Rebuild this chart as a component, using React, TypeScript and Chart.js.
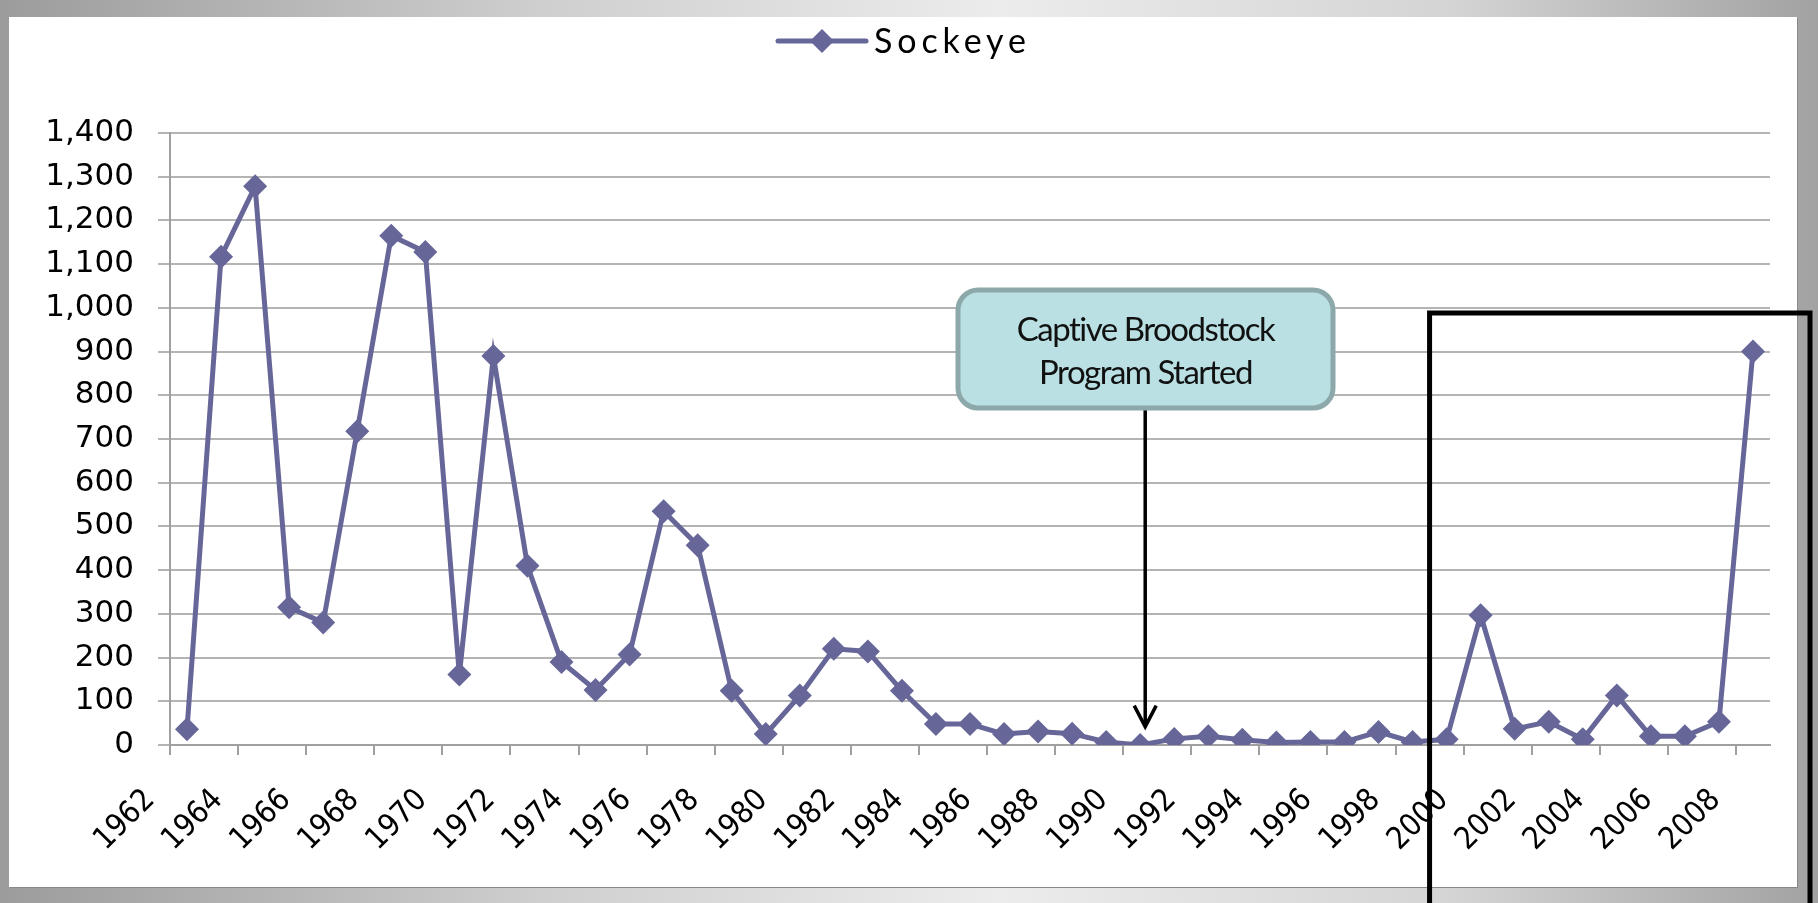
import React, { useEffect, useRef } from 'react';
import { Chart, registerables } from 'chart.js';

Chart.register(...registerables);

const years = [
  '1962', '1963', '1964', '1965', '1966', '1967', '1968', '1969', '1970', '1971',
  '1972', '1973', '1974', '1975', '1976', '1977', '1978', '1979', '1980', '1981',
  '1982', '1983', '1984', '1985', '1986', '1987', '1988', '1989', '1990', '1991',
  '1992', '1993', '1994', '1995', '1996', '1997', '1998', '1999', '2000', '2001',
  '2002', '2003', '2004', '2005', '2006', '2007', '2008',
];

const sockeye = [
  36, 1117, 1278, 315, 280, 718, 1165, 1128, 161, 890,
  410, 190, 126, 207, 535, 457, 124, 25, 113, 220,
  214, 124, 48, 48, 25, 31, 26, 7, 0, 14,
  20, 12, 6, 7, 7, 30, 7, 13, 297, 37,
  53, 13, 113, 20, 20, 53, 900,
];

const yMin = 0;
const yMax = 1400;
const yStep = 100;

const seriesName = 'Sockeye';
const calloutLines = ['Captive Broodstock', 'Program Started'];
const calloutYear = '1990';
const highlightFirstYear = '1999';

const LINE_COLOR = '#666699';

const annotationPlugin = {
  id: 'annotations',
  afterDraw(chart: any) {
    const ctx: CanvasRenderingContext2D = chart.ctx;
    const xs = chart.scales.x;
    const ys = chart.scales.y;
    ctx.save();

    // Legend
    const ly = 41;
    ctx.strokeStyle = LINE_COLOR;
    ctx.lineWidth = 5;
    ctx.lineCap = 'round';
    ctx.beginPath();
    ctx.moveTo(778, ly);
    ctx.lineTo(866, ly);
    ctx.stroke();
    ctx.fillStyle = LINE_COLOR;
    ctx.beginPath();
    ctx.moveTo(822, ly - 12);
    ctx.lineTo(834, ly);
    ctx.lineTo(822, ly + 12);
    ctx.lineTo(810, ly);
    ctx.closePath();
    ctx.fill();
    ctx.font = '34px Lato';
    (ctx as any).letterSpacing = '0px';
    const w = ctx.measureText(seriesName).width;
    const sp = Math.max(0, (152 - w) / 6);
    (ctx as any).letterSpacing = sp + 'px';
    ctx.fillStyle = '#000';
    ctx.textAlign = 'left';
    ctx.textBaseline = 'alphabetic';
    ctx.fillText(seriesName, 874, 53);
    (ctx as any).letterSpacing = '0px';

    // Callout arrow
    const idx = years.indexOf(calloutYear);
    const ax = xs.getPixelForValue(idx) + 5;
    const tipY = ys.getPixelForValue(42);
    ctx.strokeStyle = '#000';
    ctx.lineWidth = 3.5;
    ctx.lineCap = 'butt';
    ctx.beginPath();
    ctx.moveTo(ax, 410);
    ctx.lineTo(ax, tipY - 2);
    ctx.stroke();
    ctx.lineJoin = 'miter';
    ctx.beginPath();
    ctx.moveTo(ax - 11, tipY - 21);
    ctx.lineTo(ax, tipY);
    ctx.lineTo(ax + 11, tipY - 21);
    ctx.stroke();

    // Callout box
    const bx = 958, by = 290, bw = 375, bh = 118;
    ctx.beginPath();
    (ctx as any).roundRect(bx, by, bw, bh, 20);
    ctx.fillStyle = '#bae0e3';
    ctx.fill();
    ctx.lineWidth = 5;
    ctx.strokeStyle = '#8ca8aa';
    ctx.stroke();
    ctx.fillStyle = '#111';
    ctx.font = '33px Lato';
    (ctx as any).letterSpacing = '-1.5px';
    ctx.textAlign = 'center';
    ctx.textBaseline = 'middle';
    ctx.fillText(calloutLines[0], bx + bw / 2, 330);
    ctx.fillText(calloutLines[1], bx + bw / 2, 373);
    (ctx as any).letterSpacing = '0px';

    // Highlight rectangle
    const hi = years.indexOf(highlightFirstYear);
    const rx = (xs.getPixelForValue(hi - 1) + xs.getPixelForValue(hi)) / 2;
    ctx.strokeStyle = '#000';
    ctx.lineWidth = 5;
    ctx.lineJoin = 'miter';
    ctx.beginPath();
    ctx.moveTo(rx, 920);
    ctx.lineTo(rx, 313);
    ctx.lineTo(1810, 313);
    ctx.lineTo(1810, 920);
    ctx.stroke();

    ctx.restore();
  },
};

export default function App() {
  const ref = useRef<HTMLCanvasElement>(null);

  useEffect(() => {
    if (!ref.current) return;
    const chart = new Chart(ref.current, {
      type: 'line',
      data: {
        labels: years,
        datasets: [
          {
            label: seriesName,
            data: sockeye,
            borderColor: LINE_COLOR,
            backgroundColor: LINE_COLOR,
            borderWidth: 5,
            pointStyle: 'rectRot',
            pointRadius: 12,
            pointBorderWidth: 0,
            pointBackgroundColor: LINE_COLOR,
            tension: 0,
          },
        ],
      },
      options: {
        animation: false,
        responsive: false,
        devicePixelRatio: 1,
        layout: { padding: { top: 133, right: 48, bottom: 0, left: 0 } },
        plugins: {
          legend: { display: false },
          tooltip: { enabled: false },
        },
        scales: {
          x: {
            type: 'category',
            offset: true,
            afterFit: (s: any) => {
              s.height = 158;
            },
            border: { display: true, color: '#a0a0a0', width: 2 },
            grid: {
              offset: true,
              drawOnChartArea: false,
              drawTicks: true,
              tickLength: 10,
              lineWidth: 2,
              color: (c: any) => (c.index % 2 === 0 ? '#a0a0a0' : 'rgba(0,0,0,0)'),
            },
            ticks: {
              autoSkip: false,
              minRotation: 45,
              maxRotation: 45,
              labelOffset: -37,
              padding: 27,
              color: '#000',
              font: { family: 'DejaVu Sans Condensed', size: 31 },
              callback: (_v: any, i: number) => (i % 2 === 0 ? years[i] : ''),
            },
          },
          y: {
            min: yMin,
            max: yMax,
            afterFit: (s: any) => {
              s.width = 170;
            },
            border: { display: true, color: '#a0a0a0', width: 2 },
            grid: {
              color: '#b4b4b4',
              lineWidth: 2,
              drawTicks: true,
              tickLength: 12,
            },
            ticks: {
              stepSize: yStep,
              padding: 24,
              color: '#000',
              font: { family: 'DejaVu Sans', size: 31 },
              callback: (v: any) => Number(v).toLocaleString('en-US'),
            },
          },
        },
      },
      plugins: [annotationPlugin],
    });
    return () => chart.destroy();
  }, []);

  return (
    <div
      style={{
        position: 'fixed',
        left: 0,
        top: 0,
        width: 1818,
        height: 903,
        overflow: 'hidden',
        background:
          'linear-gradient(to right, #9c9c9c 0%, #cfcfcf 30%, #ececec 55%, #d4d4d4 80%, #a2a2a2 100%)',
      }}
    >
      <div
        style={{
          position: 'absolute',
          left: 9,
          top: 17,
          width: 1788,
          height: 870,
          background: '#fff',
          boxShadow: '1px 1px 0 #888',
        }}
      />
      <canvas
        ref={ref}
        width={1818}
        height={903}
        style={{ position: 'absolute', left: 0, top: 0, width: 1818, height: 903 }}
      />
    </div>
  );
}
